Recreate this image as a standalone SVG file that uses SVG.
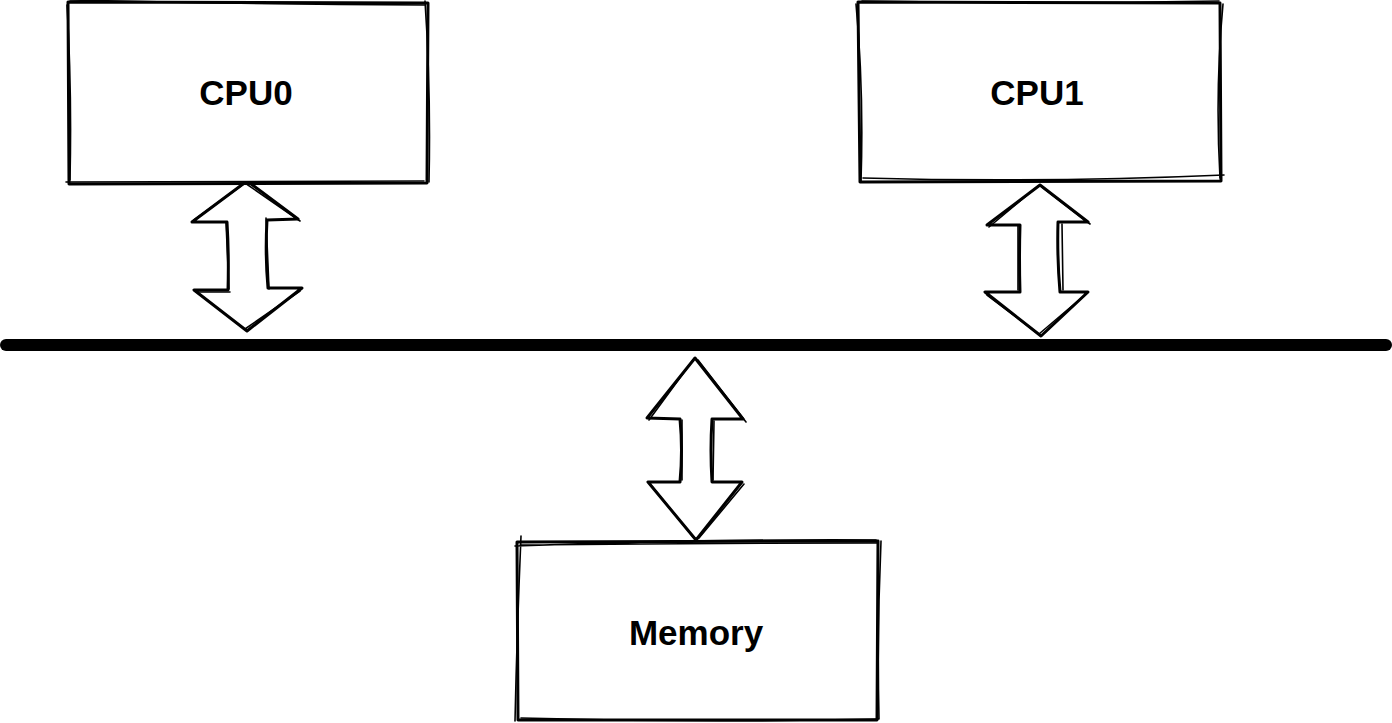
<svg xmlns="http://www.w3.org/2000/svg" width="1392" height="723" viewBox="0 0 1392 723">
  <style>
    .s1 { fill: none; stroke: #000; stroke-width: 3; stroke-linecap: round; stroke-linejoin: round; }
    .s2 { fill: none; stroke: #000; stroke-width: 1.6; stroke-linecap: round; stroke-linejoin: round; }
    .bg { fill: #fff; stroke: none; }
    .lbl { font-family: "Liberation Sans", Arial, sans-serif; font-weight: bold; font-size: 35px; fill: #000; text-anchor: middle; }
  </style>
  <rect width="1392" height="723" fill="#fff"/>
  <g id="connectors">
    <line id="bus" x1="6" y1="345" x2="1386" y2="345" stroke="#000" stroke-width="12" stroke-linecap="round"/>
    <g id="arrow-cpu0">
      <path class="s1" d="M247 181 L298 219 L267 220 Q265 255 268 288 L302 288 L247 331 L194 290 L228 290 Q229 256 227 222 L192 222 Z"/>
      <path class="s2" d="M245 183 L300 221 M266 218 L269 289 M300 291 L245 329 M196 292 L230 292 M226 222 L229 289 M194 220 L249 180"/>
    </g>
    <g id="arrow-cpu1">
      <path class="s1" d="M1040 185 L1088 222 L1058 222 Q1057 257 1060 292 L1088 292 L1041 336 L985 292 L1020 292 Q1019 258 1020 225 L987 225 Z"/>
      <path class="s2" d="M1042 187 L1090 224 M1062 224 L1063 290 M1086 294 L1039 334 M987 295 L1037 333 M1018 226 L1018 290 M989 227 L1038 186"/>
    </g>
    <g id="arrow-mem">
      <path class="s1" d="M695 358 L743 419 L712 419 Q710 450 712 482 L742 482 L696 540 L648 482 L680 482 Q683 450 680 419 L647 418 Z"/>
      <path class="s2" d="M698 360 L746 422 M714 421 L713 480 M744 484 L699 538 M650 484 L694 538 M682 420 L682 480 M649 420 L693 360"/>
    </g>
  </g>
  <g id="cpu0">
    <path class="bg" d="M68 2 L428 2 L428 183 L68 183 Z"/>
    <path class="s1" d="M68 2 L428 3 L427 183 L69 184 Z"/>
    <path class="s2" d="M70 0 Q250 4 424 5 M425 1 Q431 90 429 182 M424 181 Q250 182 66 182 M67 5 Q72 90 70 180"/>
    <text class="lbl" x="246" y="105">CPU0</text>
  </g>
  <g id="cpu1">
    <path class="bg" d="M860 2 L1220 2 L1220 181 L860 181 Z"/>
    <path class="s1" d="M858 2 L1220 3 L1221 181 L860 182 Z"/>
    <path class="s2" d="M862 1 Q1040 4 1219 1 M1223 4 Q1215 90 1220 178 M1224 175 Q1040 183 863 178 M856 4 Q864 90 861 182"/>
    <text class="lbl" x="1037" y="105">CPU1</text>
  </g>
  <g id="memory">
    <path class="bg" d="M517 541 L879 541 L879 720 L517 720 Z"/>
    <path class="s1" d="M517 542 L878 541 L877 720 L518 720 Z"/>
    <path class="s2" d="M515 546 Q700 539 876 540 M520 545 Q700 543 877 543 M881 541 Q877 630 879 719 M878 719 Q700 723 521 718 M521 536 Q517 630 515 721"/>
    <text class="lbl" x="696" y="645">Memory</text>
  </g>
</svg>
